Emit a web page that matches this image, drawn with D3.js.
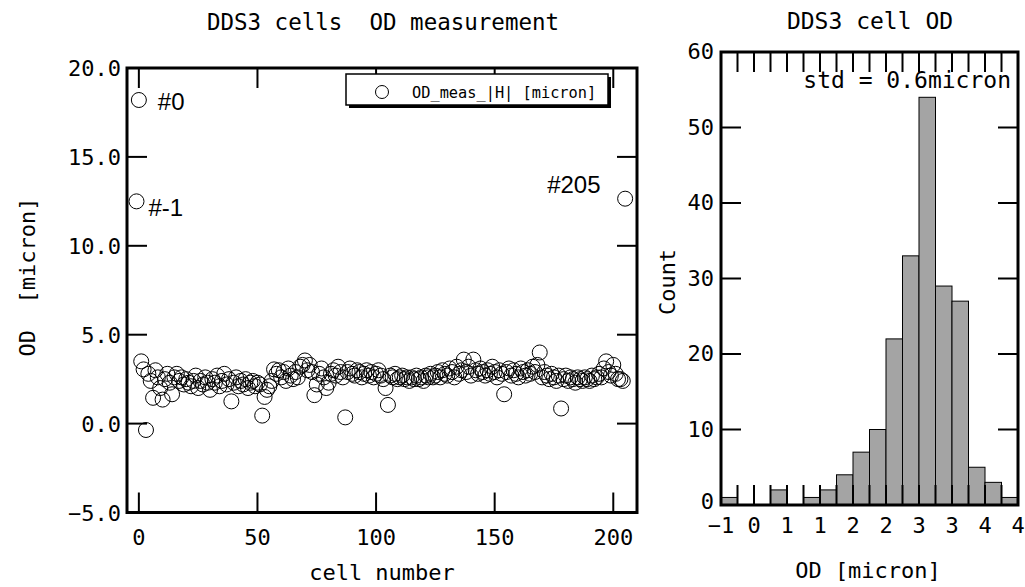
<!DOCTYPE html>
<html>
<head>
<meta charset="utf-8">
<script src="https://cdn.jsdelivr.net/npm/d3@7"></script>
<style>
html,body{margin:0;padding:0;background:#fff;}
svg{display:block;}
text{font-family:"DejaVu Sans Mono",monospace;fill:#000;white-space:pre;}
</style>
</head>
<body>
<svg id="chart" width="1025" height="587"></svg>
<script>
// ---------------- data ----------------
const scatterTitle = "DDS3 cells  OD measurement";
const scatterXLabel = "cell number";
const scatterYLabel = "OD  [micron]";
const legendLabel = "OD_meas_|H| [micron]";
const firstCell = -1;
// OD value per cell, cells -1 .. 205
const odValues = [
  12.5, 18.2, 3.5, 3.05, -0.36,
  2.8, 2.4, 1.45, 3.0, 2.6, 2.0, 1.35, 2.5, 2.8, 2.3,
  1.65, 2.6, 2.8, 2.4, 2.6, 2.2, 2.5, 2.3, 2.1, 2.4,
  2.7, 2.0, 2.4, 2.2, 2.6, 2.3, 1.9, 2.5, 2.3, 2.7,
  2.1, 2.4, 2.8, 2.2, 2.5, 1.25, 2.3, 2.6, 2.1, 2.4,
  2.2, 2.5, 2.0, 2.3, 2.4, 2.1, 2.3, 2.2, 0.45, 1.5,
  1.9, 2.1, 2.4, 3.05, 2.8, 3.0, 2.6, 2.9, 2.4, 3.1,
  2.7, 2.5, 2.9, 2.6, 3.2, 3.3, 3.55, 3.0, 3.3, 2.9,
  1.6, 2.2, 2.8, 3.1, 2.6, 2.0, 2.3, 2.8, 3.0, 2.7,
  3.2, 2.9, 2.6, 0.35, 2.9, 3.1, 2.8, 2.7, 3.0, 2.9,
  2.6, 2.8, 3.0, 2.7, 2.9, 2.6, 2.8, 3.0, 2.7, 2.5,
  2.0, 1.05, 2.7, 2.6, 2.8, 2.5, 2.6, 2.7, 2.5, 2.6,
  2.4, 2.6, 2.5, 2.7, 2.5, 2.6, 2.4, 2.7, 2.6, 2.8,
  2.6, 2.7, 2.9, 2.6, 3.0, 2.8, 2.7, 3.1, 2.9, 2.6,
  3.2, 2.8, 3.0, 3.6, 2.9, 3.2, 2.7, 3.6, 3.0, 2.8,
  3.1, 2.9, 2.7, 3.0, 2.8, 3.2, 2.9, 2.6, 3.0, 2.8,
  1.65, 2.9, 3.1, 2.7, 3.0, 2.8, 2.6, 3.1, 2.9, 2.7,
  3.0, 2.8, 3.2, 2.9, 3.3, 4.0, 2.6, 2.9, 2.7, 2.5,
  2.8, 2.6, 2.4, 2.7, 0.85, 2.5, 2.7, 2.4, 2.6, 2.5,
  2.3, 2.6, 2.5, 2.4, 2.6, 2.5, 2.4, 2.7, 2.5, 2.6,
  2.8, 2.6, 3.1, 3.5, 2.9, 2.7, 3.3, 2.8, 2.5, 2.5,
  2.4, 12.65
];
const scatterXTicks = [0, 50, 100, 150, 200];
const scatterYTicks = [-5, 0, 5, 10, 15, 20];
const annotations = [
  {cell: -1, label: "#-1"},
  {cell: 0, label: "#0"},
  {cell: 205, label: "#205"}
];

const histTitle = "DDS3 cell OD";
const histXLabel = "OD [micron]";
const histYLabel = "Count";
const histNote = "std = 0.6micron";
const histMin = -0.36;
const histMax = 4.0;
const histCounts = [1, 0, 0, 2, 0, 1, 2, 4, 7, 10, 22, 33, 54, 29, 27, 5, 3, 1];
const histXTickLabels = ["-1", "0", "1", "1", "2", "2", "3", "3", "4", "4"];
const histYTicks = [0, 10, 20, 30, 40, 50, 60];

// ---------------- drawing ----------------
const svg = d3.select("#chart");
const tickLen = 20;

function frame(g, x0, x1, y0, y1) {
  g.append("rect").attr("x", x0).attr("y", y0)
    .attr("width", x1 - x0).attr("height", y1 - y0)
    .attr("fill", "none").attr("stroke", "#000").attr("stroke-width", 3);
}

// ---- scatter ----
const sc = {l: 127, r: 637, t: 68, b: 512.5};
const xS = d3.scaleLinear().domain([-5, 210]).range([sc.l, sc.r]);
const yS = d3.scaleLinear().domain([-5, 20]).range([sc.b, sc.t]);
const gS = svg.append("g");

const pts = odValues.map((v, i) => ({cell: firstCell + i, v}));
gS.append("g").selectAll("circle").data(pts).join("circle")
  .attr("cx", d => xS(d.cell)).attr("cy", d => yS(d.v)).attr("r", 7.5)
  .attr("fill", "none").attr("stroke", "#000").attr("stroke-width", 1);

// ticks
const gT = gS.append("g").attr("stroke", "#000").attr("stroke-width", 2);
scatterXTicks.forEach(t => {
  gT.append("line").attr("x1", xS(t)).attr("x2", xS(t)).attr("y1", sc.b).attr("y2", sc.b - tickLen);
  gT.append("line").attr("x1", xS(t)).attr("x2", xS(t)).attr("y1", sc.t).attr("y2", sc.t + tickLen);
});
scatterYTicks.filter(t => t > -5 && t < 20).forEach(t => {
  gT.append("line").attr("x1", sc.l).attr("x2", sc.l + tickLen).attr("y1", yS(t)).attr("y2", yS(t));
  gT.append("line").attr("x1", sc.r).attr("x2", sc.r - tickLen).attr("y1", yS(t)).attr("y2", yS(t));
});
frame(gS, sc.l, sc.r, sc.t, sc.b);

// tick labels
gS.append("g").selectAll("text").data(scatterXTicks).join("text")
  .attr("x", d => xS(d)).attr("y", 545).attr("text-anchor", "middle")
  .style("font-size", "22px").text(d => d);
gS.append("g").selectAll("text").data(scatterYTicks).join("text")
  .attr("x", 121).attr("y", d => yS(d) + 8).attr("text-anchor", "end")
  .style("font-size", "22px").text(d => d3.format(".1f")(d).replace("-", "\u2212"));

gS.append("text").attr("x", 383).attr("y", 30).attr("text-anchor", "middle")
  .style("font-size", "22.5px").text(scatterTitle);
gS.append("text").attr("x", (sc.l + sc.r) / 2).attr("y", 580).attr("text-anchor", "middle")
  .style("font-size", "22px").text(scatterXLabel);
gS.append("text").attr("transform", "translate(35,277) rotate(-90)").attr("text-anchor", "middle")
  .style("font-size", "22px").text(scatterYLabel);

// annotations
const annOffsets = {"#-1": [12, 15], "#0": [19, 10], "#205": [-78, -6]};
annotations.forEach(a => {
  const p = pts.find(d => d.cell === a.cell);
  const o = annOffsets[a.label];
  gS.append("text").attr("x", xS(p.cell) + o[0]).attr("y", yS(p.v) + o[1])
    .style("font-family", "'Liberation Sans', Arial, sans-serif").style("font-size", "24px")
    .text(a.label);
});

// legend
const lg = gS.append("g");
lg.append("rect").attr("x", 349).attr("y", 77).attr("width", 262).attr("height", 31).attr("fill", "#000");
lg.append("rect").attr("x", 346).attr("y", 74).attr("width", 262).attr("height", 31)
  .attr("fill", "#fff").attr("stroke", "#000").attr("stroke-width", 1.5);
lg.append("circle").attr("cx", 382).attr("cy", 92).attr("r", 6.5).attr("fill", "none").attr("stroke", "#000");
lg.append("text").attr("x", 412).attr("y", 97.5).style("font-size", "15.3px").text(legendLabel);

// ---- histogram ----
const hc = {l: 721, r: 1018, t: 52, b: 505};
const nb = histCounts.length;
const bw = (histMax - histMin) / nb;
const xH = d3.scaleLinear().domain([histMin, histMax]).range([hc.l, hc.r]);
const yH = d3.scaleLinear().domain([0, 60]).range([hc.b, hc.t]);
const gH = svg.append("g");
const bins = histCounts.map((c, i) => ({x0: histMin + i * bw, x1: histMin + (i + 1) * bw, c}));
gH.append("g").selectAll("rect").data(bins.filter(d => d.c > 0)).join("rect")
  .attr("x", d => xH(d.x0)).attr("width", d => xH(d.x1) - xH(d.x0))
  .attr("y", d => yH(d.c)).attr("height", d => yH(0) - yH(d.c))
  .attr("fill", "#a4a4a4").attr("stroke", "#000").attr("stroke-width", 1);

const gHT = gH.append("g").attr("stroke", "#000").attr("stroke-width", 2);
d3.range(1, nb).forEach(i => {
  const xv = xH(histMin + i * bw);
  gHT.append("line").attr("x1", xv).attr("x2", xv).attr("y1", hc.b).attr("y2", hc.b - tickLen);
  gHT.append("line").attr("x1", xv).attr("x2", xv).attr("y1", hc.t).attr("y2", hc.t + tickLen);
});
histYTicks.filter(t => t > 0 && t < 60).forEach(t => {
  gHT.append("line").attr("x1", hc.l).attr("x2", hc.l + tickLen).attr("y1", yH(t)).attr("y2", yH(t));
  gHT.append("line").attr("x1", hc.r).attr("x2", hc.r - tickLen).attr("y1", yH(t)).attr("y2", yH(t));
});
frame(gH, hc.l, hc.r, hc.t, hc.b);

gH.append("g").selectAll("text").data(histXTickLabels).join("text")
  .attr("x", (d, i) => xH(histMin + i * 2 * bw)).attr("y", 533).attr("text-anchor", "middle")
  .style("font-size", "22px").text(d => d.replace("-", "\u2212"));
gH.append("g").selectAll("text").data(histYTicks).join("text")
  .attr("x", 714).attr("y", d => yH(d) + (d === 0 ? 4 : 7)).attr("text-anchor", "end")
  .style("font-size", "22px").text(d => d);

gH.append("text").attr("x", 870).attr("y", 28.5).attr("text-anchor", "middle")
  .style("font-size", "23px").text(histTitle);
gH.append("text").attr("x", 868).attr("y", 578).attr("text-anchor", "middle")
  .style("font-size", "22px").text(histXLabel);
gH.append("text").attr("transform", "translate(675,282) rotate(-90)").attr("text-anchor", "middle")
  .style("font-size", "22px").text(histYLabel);
gH.append("text").attr("x", 1011).attr("y", 88).attr("text-anchor", "end")
  .style("font-size", "23px").text(histNote);
</script>
</body>
</html>
